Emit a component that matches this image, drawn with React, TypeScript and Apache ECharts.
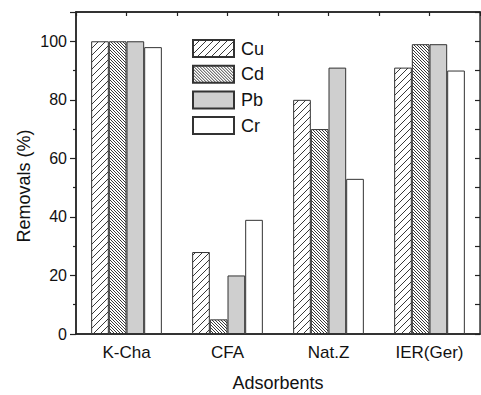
import { useEffect, useRef } from 'react';
import * as echarts from 'echarts';

const categories = ['K-Cha', 'CFA', 'Nat.Z', 'IER(Ger)'];
const seriesNames = ['Cu', 'Cd', 'Pb', 'Cr'];
const cuValues = [100, 28, 80, 91];
const cdValues = [100, 5, 70, 99];
const pbValues = [100, 20, 91, 99];
const crValues = [98, 39, 53, 90];
const yMaxLabel = 100;

const FONT = '"Liberation Sans", Arial, sans-serif';

function hatch(size: number, step: number, dir: 'fwd' | 'back', stroke: string, sw: number) {
  let d = '';
  if (dir === 'back') {
    for (let c = -size; c <= size; c += step) {
      d += `M${-1},${c - 1} L${size + 1},${c + size + 1} `;
    }
  } else {
    for (let c = 0; c <= 2 * size; c += step) {
      d += `M${-1},${c + 1} L${size + 1},${c - size - 1} `;
    }
  }
  const svg = `<svg xmlns='http://www.w3.org/2000/svg' width='${size}' height='${size}'><rect width='${size}' height='${size}' fill='white'/><path d='${d}' stroke='${stroke}' stroke-width='${sw}' fill='none'/></svg>`;
  return {
    image: 'data:image/svg+xml;charset=utf-8,' + encodeURIComponent(svg),
    imageWidth: size,
    imageHeight: size,
    repeat: 'repeat',
  } as any;
}

export default function App() {
  const ref = useRef<HTMLDivElement>(null);
  useEffect(() => {
    if (!ref.current) return;
    const chart = echarts.init(ref.current, null, { renderer: 'svg' });
    const axisColor = '#222';
    const fills = [
      hatch(7, 7, 'fwd', '#222', 0.9),
      hatch(6, 3, 'back', '#222', 0.9),
      '#cfcfcf',
      '#ffffff',
    ];
    const values = [cuValues, cdValues, pbValues, crValues];
    chart.setOption({
      animation: false,
      backgroundColor: '#ffffff',
      textStyle: { fontFamily: FONT },
      grid: {
        left: 76,
        right: 1,
        top: 12,
        bottom: 61,
        containLabel: false,
        outerBoundsMode: 'none',
        show: true,
        borderColor: '#333',
        borderWidth: 1.4,
        backgroundColor: 'transparent',
      },
      legend: {
        data: seriesNames,
        orient: 'vertical',
        left: 192,
        top: 39,
        padding: 0,
        itemWidth: 41,
        itemHeight: 17,
        itemGap: 6.7,
        icon: 'rect',
        textStyle: { fontSize: 18, lineHeight: 18, color: '#111', fontFamily: FONT, padding: [0, 0, 0, 2] },
      },
      xAxis: [
        {
          type: 'category',
          data: categories,
          position: 'bottom',
          axisLine: { onZero: false, lineStyle: { color: axisColor, width: 1.5 } },
          axisTick: { alignWithLabel: true, length: 5, lineStyle: { color: axisColor, width: 1.2 } },
          axisLabel: { fontSize: 17, color: '#111', margin: 10, fontFamily: FONT },
          splitLine: { show: false },
          name: 'Adsorbents',
          nameLocation: 'middle',
          nameGap: 40,
          nameTextStyle: { fontSize: 18, color: '#111', fontFamily: FONT },
        },
        {
          type: 'value',
          min: 0,
          max: 8,
          interval: 1,
          position: 'top',
          axisLine: { show: true, onZero: false, lineStyle: { color: axisColor, width: 1.5 } },
          axisTick: { show: true, inside: true, length: 4, lineStyle: { color: axisColor, width: 1.2 } },
          axisLabel: { show: true, color: 'rgba(0,0,0,0)' },
          splitLine: { show: true, lineStyle: { color: 'rgba(0,0,0,0)' } },
        },
      ],
      yAxis: [
        {
          type: 'value',
          min: 0,
          max: 110,
          interval: 20,
          position: 'left',
          axisLine: { show: true, onZero: false, lineStyle: { color: axisColor, width: 1.5 } },
          axisTick: { show: true, length: 6, lineStyle: { color: axisColor, width: 1.2 } },
          minorTick: { show: true, splitNumber: 2, length: 3, lineStyle: { color: axisColor, width: 1.2 } },
          axisLabel: {
            fontSize: 16,
            color: '#111',
            margin: 9,
            fontFamily: FONT,
            showMaxLabel: false,
            formatter: (v: number) => (v > yMaxLabel ? '' : String(v)),
          },
          splitLine: { show: false },
        },
        {
          type: 'value',
          min: 0,
          max: 110,
          interval: 10,
          position: 'right',
          axisLine: { show: true, onZero: false, lineStyle: { color: '#555', width: 1.2 } },
          axisTick: { show: true, inside: true, length: 5, lineStyle: { color: axisColor, width: 1.2 } },
          axisLabel: { show: true, color: 'rgba(0,0,0,0)' },
          splitLine: { show: true, lineStyle: { color: 'rgba(0,0,0,0)' } },
        },
      ],
      graphic: [
        {
          type: 'text',
          x: 24,
          y: 186,
          rotation: Math.PI / 2,
          style: {
            text: 'Removals (%)',
            fontSize: 18,
            fontFamily: FONT,
            fill: '#111',
            textAlign: 'center',
            textVerticalAlign: 'middle',
          },
        },
      ],
      series: seriesNames.map((name, i) => ({
        name,
        type: 'bar',
        xAxisIndex: 0,
        yAxisIndex: 0,
        data: values[i],
        barGap: '0%',
        barCategoryGap: '30%',
        itemStyle: { color: fills[i], borderColor: '#333', borderWidth: 1 },
        emphasis: { disabled: true },
      })),
    });
    return () => chart.dispose();
  }, []);
  return <div ref={ref} style={{ position: 'fixed', left: 0, top: 0, width: 481, height: 395 }} />;
}
